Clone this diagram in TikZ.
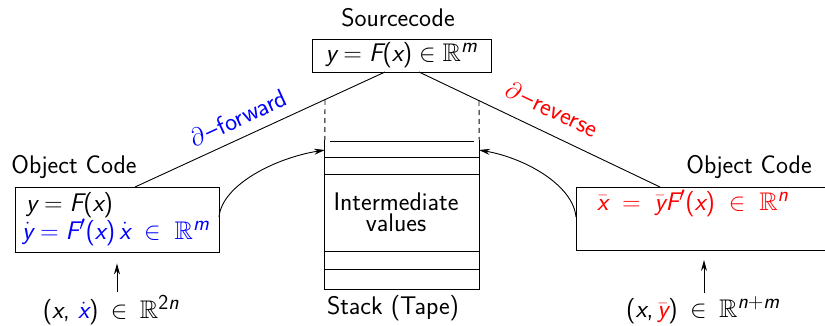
\documentclass[tikz,border=0pt]{standalone}
\usepackage{amssymb}
\renewcommand{\familydefault}{\sfdefault}
\usepackage[italic]{mathastext}
\usetikzlibrary{arrows.meta}
\begin{document}
\begin{tikzpicture}[x=1pt,y=-1pt,
  every node/.style={font=\fontsize{25.5}{30}\selectfont\sffamily, inner sep=0pt},
  box/.style={draw, line width=0.9pt, rectangle},
  ln/.style={line width=0.9pt},
  dsh/.style={line width=0.9pt, dash pattern=on 5pt off 4pt},
  arr/.style={line width=0.9pt, -{Stealth[length=11pt,width=6pt]}}]
\clip (0,0) rectangle (825,326);
% source
\node (srct) at (398,18) {Sourcecode};
\node[box, minimum width=179pt, minimum height=33pt] (src) at (401.5,55.5) {$y=F(x)\in\mathbb{R}^m$};
% left object code
\node (lobj) at (74,167) {Object Code};
\node[box, minimum width=204pt, minimum height=65pt] (lbox) at (117,219.5) {};
\node[anchor=west] (l1) at (26,205) {$y=F(x)$};
\node[anchor=west, text=blue] (l2) at (22,232) {$\dot y=F'(x)\,\dot x\;\in\;\mathbb{R}^m$};
% right object code
\node (robj) at (749,167) {Object Code};
\node[box, minimum width=260pt, minimum height=63pt, anchor=north west] (rbox) at (576,187) {};
\node[anchor=west, text=red] (r1) at (597,203) {$\bar x\;=\;\bar yF'(x)\;\in\;\mathbb{R}^n$};
% inputs
\node (lin) at (111,310) {$(x,\,\textcolor{blue}{\dot x})\:\in\:\mathbb{R}^{2n}$};
\node (rin) at (703,310) {$(x,\textcolor{red}{\bar y})\:\in\:\mathbb{R}^{n+m}$};
\draw[arr, shorten <=3pt, shorten >=11pt] (lin.north -| lbox.south) -- (lbox.south);
\coordinate (rup) at (704,250);
\draw[arr, shorten <=3pt, shorten >=10pt] (rin.north -| rup) -- (rup);
% stack
\node[minimum width=154pt, minimum height=149pt] (stack) at (402,214.5) {};
\draw[ln] (stack.north west) -- (stack.south west) -- (stack.south east) -- (stack.north east);
\draw[ln] (330,141) -- (474,141);
\draw[ln] (325,157) -- (479,157);
\draw[ln] (325,174) -- (479,174);
\draw[ln] (325,251) -- (479,251);
\draw[ln] (325,269) -- (479,269);
\node[align=center, font=\fontsize{25.5}{21}\selectfont\sffamily] (inter) at (396,212) {Intermediate\\values};
\node (stk) at (393,308) {Stack (Tape)};
% slanted lines
\coordinate (sl) at (385,72);
\coordinate (sr) at (419,72);
\coordinate (ltop) at (135,187);
\coordinate (rtop) at (660,187);
\draw[ln] (sl) -- (ltop);
\draw[ln] (sr) -- (rtop);
\coordinate (dl) at (325,100);
\coordinate (dr) at (479,101);
\draw[dsh] (dl) -- (stack.north west);
\draw[dsh] (dr) -- (stack.north east);
\node[rotate=24.7, text=blue] (fwd) at (238,118) {$\partial\mkern2mu{-}\mkern1mu$forward};
\node[rotate=-25.5, text=red] (rev) at (552,109) {$\partial\mkern2mu{-}\mkern1mu$reverse};
% curved arrows
\coordinate (lc) at (219,217);
\coordinate (ltip) at (325,150);
\coordinate (rc) at (576,217);
\coordinate (rtip) at (479,150);
\draw[arr] (lc) .. controls (222,185) and (275,158) .. (ltip);
\draw[arr] (rc) .. controls (573,185) and (525,158) .. (rtip);
\end{tikzpicture}
\end{document}
